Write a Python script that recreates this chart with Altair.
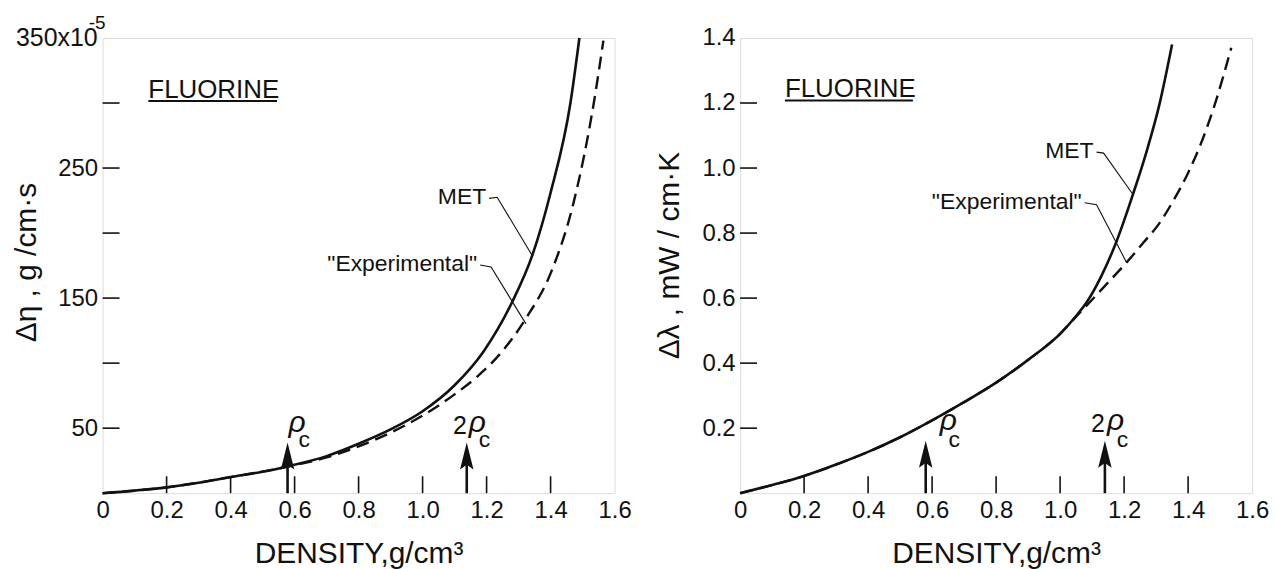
import altair as alt
import pandas as pd

# ---------------- data ----------------
# Left panel: excess viscosity, units 1e-5 g/cm.s
eta_met_x = [0, 0.1, 0.2, 0.3, 0.4, 0.5, 0.58, 0.7, 0.8, 0.9, 1.0, 1.1, 1.19, 1.28, 1.343, 1.40, 1.462, 1.49]
eta_met_y = [0, 2, 4.5, 8, 12.4, 16.5, 20.8, 28.5, 38, 49, 63, 83, 108.8, 147, 183, 231, 300, 350]
eta_exp_x = [0, 0.2, 0.4, 0.58, 0.7, 0.8, 0.9, 1.0, 1.1, 1.17, 1.248, 1.322, 1.405, 1.472, 1.535, 1.565]
eta_exp_y = [0, 4.5, 12.4, 20.5, 27.5, 36, 46.5, 59.7, 76, 89.5, 108.8, 134, 172, 223.6, 300, 348]

# Right panel: excess thermal conductivity, mW/cm.K
lam_met_x = [0, 0.1, 0.2, 0.3, 0.4, 0.5, 0.6, 0.7, 0.8, 0.9, 1.0, 1.05, 1.083, 1.13, 1.171, 1.229, 1.27, 1.311, 1.35]
lam_met_y = [0, 0.025, 0.053, 0.088, 0.127, 0.172, 0.224, 0.28, 0.34, 0.41, 0.49, 0.545, 0.587, 0.67, 0.761, 0.923, 1.05, 1.198, 1.38]
lam_exp_x = [0, 0.1, 0.2, 0.3, 0.4, 0.5, 0.6, 0.7, 0.8, 0.9, 1.0, 1.05, 1.1, 1.15, 1.208, 1.26, 1.31, 1.354, 1.40, 1.44, 1.48, 1.535]
lam_exp_y = [0, 0.025, 0.053, 0.088, 0.127, 0.172, 0.224, 0.28, 0.34, 0.41, 0.49, 0.543, 0.595, 0.648, 0.71, 0.77, 0.83, 0.90, 0.985, 1.075, 1.185, 1.37]

# axis ticks / labels
x_tick_vals = [0.2, 0.4, 0.6, 0.8, 1.0, 1.2, 1.4]
x_label_vals = [0, 0.2, 0.4, 0.6, 0.8, 1.0, 1.2, 1.4, 1.6]
eta_tick_vals = [50, 100, 150, 200, 250, 300]
eta_label_vals = [50, 150, 250]
lam_tick_vals = [0.2, 0.4, 0.6, 0.8, 1.0, 1.2]
lam_label_vals = [0.2, 0.4, 0.6, 0.8, 1.0, 1.2, 1.4]

# critical density arrows (rho_c and 2 rho_c)
eta_arrow_x = [0.578, 1.138]
eta_arrow_tip = [38.9, 38.9]
lam_arrow_x = [0.58, 1.14]
lam_arrow_tip = [0.161, 0.161]

# leader lines (label -> curve)
eta_leader_met = [(1.208, 226.7), (1.233, 227.5), (1.342, 183)]
eta_leader_exp = [(1.18, 175.4), (1.214, 173.9), (1.323, 130.2)]
lam_leader_met = [(1.114, 1.049), (1.136, 1.046), (1.229, 0.917)]
lam_leader_exp = [(1.077, 0.893), (1.114, 0.887), (1.208, 0.709)]

# title "FLUORINE" anchor (x, baseline y, underline y, underline end x)
eta_title = (0.143, 304, 301.5, 0.545)
lam_title = (0.14, 1.22, 1.208, 0.54)

W, H = 514, 457
FONT = "Liberation Sans, Arial, sans-serif"
INK = "#111111"


def panel(met_x, met_y, exp_x, exp_y, ymax, y_tick_vals, y_label_vals, y_title,
          title_x, title_y_center, leader_met, leader_exp, arrow_x, arrow_tip,
          ftitle, rho_dx, rho_dy, c_dx, c_dy, y_label_expr, extra=None):
    px_per_unit = H / ymax
    xs = alt.Scale(domain=[0, 1.6], nice=False, zero=False)
    ys = alt.Scale(domain=[0, ymax], nice=False, zero=False)
    x_axis = alt.Axis(values=x_label_vals, ticks=False, domain=False, grid=False,
                      tickSize=0,
                      labelExpr="datum.value == 0 ? '0' : format(datum.value, '.1f')",
                      labelFontSize=24, labelFont=FONT, labelColor=INK, labelPadding=5,
                      labelFlush=False, labelOverlap=False,
                      title="DENSITY,g/cm³", titleFontSize=30, titleFont=FONT,
                      titleFontWeight="normal", titleColor=INK,
                      titleY=70, titleBaseline="alphabetic")
    y_axis = alt.Axis(values=y_label_vals, ticks=False, domain=False, grid=False,
                      tickSize=0, labelExpr=y_label_expr,
                      labelFontSize=24, labelFont=FONT, labelColor=INK, labelPadding=5,
                      labelFlush=False, labelOverlap=False,
                      title=y_title, titleFontSize=30, titleFont=FONT,
                      titleFontWeight="normal", titleColor=INK,
                      titleX=title_x, titleY=title_y_center, titleAngle=270,
                      titleAlign="center", titleBaseline="alphabetic")
    X = alt.X("x:Q", scale=xs, axis=x_axis)
    Y = alt.Y("y:Q", scale=ys, axis=y_axis)

    met = pd.DataFrame({"x": met_x, "y": met_y})
    exp = pd.DataFrame({"x": exp_x, "y": exp_y})
    solid = alt.Chart(met).mark_line(color=INK, strokeWidth=2.6, interpolate="monotone").encode(x=X, y=Y)
    dashed = alt.Chart(exp).mark_line(color=INK, strokeWidth=2.4, strokeDash=[13, 7],
                                      interpolate="monotone").encode(x=X, y=Y)

    rows = []
    for g, pts in (("met", leader_met), ("exp", leader_exp)):
        for i, (a, b) in enumerate(pts):
            rows.append({"x": a, "y": b, "g": g, "o": i})
    leaders = alt.Chart(pd.DataFrame(rows)).mark_line(color=INK, strokeWidth=1.1).encode(
        x=X, y=Y, detail="g:N", order="o:Q")

    lab = pd.DataFrame({
        "x": [leader_met[0][0], leader_exp[0][0]],
        "y": [leader_met[0][1], leader_exp[0][1]],
        "t": ["MET", '"Experimental"'],
    })
    labels = alt.Chart(lab).mark_text(align="right", baseline="middle", dx=-3, dy=-1,
                                      fontSize=23, font=FONT, color=INK).encode(x=X, y=Y, text="t:N")

    ft = pd.DataFrame({"x": [ftitle[0]], "y": [ftitle[1]], "t": ["FLUORINE"]})
    fl_text = alt.Chart(ft).mark_text(align="left", baseline="alphabetic", fontSize=26,
                                      font=FONT, color=INK).encode(x=X, y=Y, text="t:N")
    ul = pd.DataFrame({"x": [ftitle[0]], "x2": [ftitle[3]], "y": [ftitle[2]]})
    fl_line = alt.Chart(ul).mark_rule(color=INK, strokeWidth=2).encode(x=X, x2="x2:Q", y=Y)

    xt = pd.DataFrame({"x": x_tick_vals})
    xticks = alt.Chart(xt).mark_rule(color=INK, strokeWidth=1.6).encode(
        x=X, y=alt.value(H), y2=alt.value(H - 17))
    yt = pd.DataFrame({"y": y_tick_vals})
    yticks = alt.Chart(yt).mark_rule(color=INK, strokeWidth=1.6).encode(
        y=Y, x=alt.value(0), x2=alt.value(17))

    arr = pd.DataFrame({"x": arrow_x, "y": arrow_tip,
                        "y0": [0, 0],
                        "ys": [t - 14 / px_per_unit for t in arrow_tip]})
    shafts = alt.Chart(arr).mark_rule(color=INK, strokeWidth=2.6).encode(x=X, y="y0:Q", y2="ys:Q")
    heads = alt.Chart(arr).mark_point(shape="M0,0L0.5,2L0,1.65L-0.5,2Z", filled=True,
                                      opacity=1, color=INK, size=729, strokeWidth=0).encode(x=X, y=Y)

    layers = [solid, dashed, leaders, labels, fl_text, fl_line, xticks, yticks, shafts, heads]

    # rho_c / 2 rho_c labels, each arrow with its own offsets
    for i in range(len(arrow_x)):
        one = pd.DataFrame({"x": [arrow_x[i]], "y": [arrow_tip[i]]})
        layers.append(alt.Chart(one).mark_text(text="ρ", align="left", baseline="alphabetic",
                                               fontSize=30, fontStyle="italic", font=FONT, color=INK,
                                               dx=rho_dx[i], dy=rho_dy).encode(x=X, y=Y))
        layers.append(alt.Chart(one).mark_text(text="c", align="left", baseline="alphabetic",
                                               fontSize=23, font=FONT, color=INK,
                                               dx=c_dx[i], dy=c_dy).encode(x=X, y=Y))
    two = pd.DataFrame({"x": [arrow_x[1]], "y": [arrow_tip[1]]})
    layers.append(alt.Chart(two).mark_text(text="2", align="right", baseline="alphabetic",
                                           fontSize=25, font=FONT, color=INK,
                                           dx=rho_dx[1] - 2, dy=-9).encode(x=X, y=Y))
    if extra is not None:
        layers += extra
    return alt.layer(*layers).properties(width=W, height=H)


# "350x10^-5" top label of the left axis
top_lab = pd.DataFrame({"t": ["350x10"], "s": ["-5"]})
top_main = alt.Chart(top_lab).mark_text(align="right", baseline="middle", fontSize=25,
                                        font=FONT, color=INK).encode(
    x=alt.value(-5), y=alt.value(0), text="t:N")
top_exp = alt.Chart(top_lab).mark_text(align="left", baseline="alphabetic", fontSize=19,
                                       font=FONT, color=INK).encode(
    x=alt.value(-14), y=alt.value(-9), text="s:N")

left = panel(eta_met_x, eta_met_y, eta_exp_x, eta_exp_y, 350, eta_tick_vals, eta_label_vals,
             "Δη , g /cm·s", -67, 225, eta_leader_met, eta_leader_exp,
             eta_arrow_x, eta_arrow_tip, eta_title, [1, 2], -11, [11, 12], 4,
             "format(datum.value, 'd')", extra=[top_main, top_exp])

right = panel(lam_met_x, lam_met_y, lam_exp_x, lam_exp_y, 1.4, lam_tick_vals, lam_label_vals,
              "Δλ , mW / cm·K", -62, 218, lam_leader_met, lam_leader_exp,
              lam_arrow_x, lam_arrow_tip, lam_title, [14, 2], -11, [23, 12], 6,
              "format(datum.value, '.1f')")

chart = alt.hconcat(left, right, spacing=126, bounds="flush").properties(
    padding={"left": 11, "top": 12, "right": 5, "bottom": 5},
).configure_view(stroke=INK, strokeWidth=2).configure(background="white")

chart.save("out.html", embed_options={"renderer": "svg", "actions": False})
